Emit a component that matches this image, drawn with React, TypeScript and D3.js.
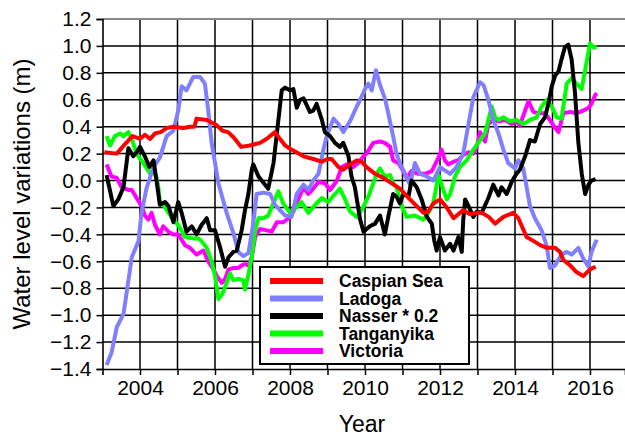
import React, { useEffect, useRef } from 'react';
import * as d3 from 'd3';

type Pt = [number, number];

const seriesNames = ['Caspian Sea', 'Ladoga', 'Nasser * 0.2', 'Tanganyika', 'Victoria'];
const seriesColors = ['#ff0000', '#8080ff', '#000000', '#00ff00', '#ff00ff'];

const caspian: Pt[] = [
  [2003.05, 0.21], [2003.38, 0.2], [2003.6, 0.27], [2003.8, 0.33], [2004.0, 0.31], [2004.13, 0.34],
  [2004.27, 0.31], [2004.4, 0.35], [2004.55, 0.36], [2004.71, 0.39], [2004.89, 0.4], [2005.15, 0.39],
  [2005.33, 0.4], [2005.45, 0.4], [2005.51, 0.46], [2005.78, 0.45], [2006.05, 0.41], [2006.2, 0.37],
  [2006.35, 0.36], [2006.5, 0.32], [2006.7, 0.25], [2006.93, 0.26], [2007.2, 0.28], [2007.38, 0.31],
  [2007.6, 0.36], [2007.73, 0.31], [2007.87, 0.26], [2008.04, 0.23], [2008.36, 0.18], [2008.62, 0.16],
  [2008.85, 0.14], [2009.0, 0.16], [2009.11, 0.16], [2009.29, 0.1], [2009.42, 0.08], [2009.6, 0.12],
  [2009.78, 0.15], [2009.91, 0.14], [2010.04, 0.1], [2010.27, 0.05], [2010.49, 0.02], [2010.71, -0.02],
  [2010.93, -0.06], [2011.2, -0.14], [2011.38, -0.19], [2011.56, -0.24], [2011.69, -0.23], [2011.82, -0.17],
  [2012.0, -0.14], [2012.18, -0.2], [2012.36, -0.28], [2012.62, -0.22], [2012.8, -0.25], [2012.98, -0.24],
  [2013.11, -0.24], [2013.3, -0.27], [2013.47, -0.32], [2013.69, -0.27], [2013.95, -0.24], [2014.09, -0.28],
  [2014.31, -0.42], [2014.5, -0.45], [2014.67, -0.48], [2014.85, -0.5], [2015.07, -0.5], [2015.2, -0.53],
  [2015.29, -0.59], [2015.47, -0.63], [2015.64, -0.68], [2015.82, -0.71], [2016.0, -0.66], [2016.15, -0.64],
];

const ladoga: Pt[] = [
  [2003.11, -1.37], [2003.24, -1.28], [2003.38, -1.09], [2003.56, -0.99], [2003.64, -0.84], [2003.78, -0.57],
  [2003.96, -0.45], [2004.04, -0.24], [2004.18, -0.05], [2004.36, 0.1], [2004.53, 0.17], [2004.71, 0.33],
  [2004.89, 0.37], [2005.02, 0.52], [2005.11, 0.7], [2005.24, 0.67], [2005.42, 0.77], [2005.6, 0.77],
  [2005.73, 0.72], [2005.82, 0.52], [2005.91, 0.28], [2006.05, 0.05], [2006.09, -0.02], [2006.31, -0.24],
  [2006.49, -0.39], [2006.62, -0.53], [2006.75, -0.56], [2006.89, -0.54], [2007.02, -0.32], [2007.11, -0.1],
  [2007.29, -0.09], [2007.47, -0.1], [2007.6, -0.18], [2007.87, -0.26], [2008.04, -0.27], [2008.18, -0.1],
  [2008.36, -0.03], [2008.49, -0.07], [2008.62, 0.0], [2008.76, 0.05], [2008.89, 0.23], [2008.98, 0.33],
  [2009.16, 0.46], [2009.29, 0.42], [2009.42, 0.36], [2009.6, 0.44], [2009.78, 0.55], [2009.87, 0.6],
  [2010.0, 0.68], [2010.09, 0.72], [2010.18, 0.67], [2010.29, 0.82], [2010.4, 0.71], [2010.53, 0.61],
  [2010.62, 0.5], [2010.75, 0.33], [2010.84, 0.2], [2010.93, 0.13], [2011.07, 0.05], [2011.2, -0.03],
  [2011.33, 0.13], [2011.47, 0.05], [2011.65, 0.03], [2011.82, 0.0], [2012.0, 0.1], [2012.27, 0.05],
  [2012.44, 0.1], [2012.62, 0.2], [2012.76, 0.42], [2012.89, 0.62], [2013.07, 0.73], [2013.16, 0.71],
  [2013.29, 0.6], [2013.42, 0.45], [2013.56, 0.35], [2013.69, 0.23], [2013.82, 0.13], [2014.0, 0.09],
  [2014.09, 0.15], [2014.22, 0.09], [2014.31, -0.05], [2014.4, -0.19], [2014.53, -0.28], [2014.71, -0.37],
  [2014.85, -0.49], [2014.93, -0.65], [2015.07, -0.63], [2015.24, -0.55], [2015.38, -0.53], [2015.51, -0.55],
  [2015.69, -0.5], [2015.82, -0.58], [2015.96, -0.64], [2016.04, -0.53], [2016.18, -0.44],
];

const nasser: Pt[] = [
  [2003.11, 0.04], [2003.18, -0.05], [2003.29, -0.19], [2003.42, -0.14], [2003.56, -0.05], [2003.69, 0.24],
  [2003.82, 0.18], [2003.91, 0.21], [2004.0, 0.25], [2004.13, 0.18], [2004.25, 0.1], [2004.36, 0.15],
  [2004.44, 0.0], [2004.53, -0.18], [2004.67, -0.16], [2004.76, -0.19], [2004.89, -0.31], [2005.02, -0.16],
  [2005.11, -0.24], [2005.24, -0.38], [2005.38, -0.34], [2005.51, -0.4], [2005.64, -0.33], [2005.78, -0.28],
  [2005.87, -0.37], [2006.0, -0.37], [2006.13, -0.49], [2006.27, -0.64], [2006.36, -0.57], [2006.49, -0.53],
  [2006.58, -0.52], [2006.71, -0.37], [2006.8, -0.22], [2006.89, -0.1], [2006.98, 0.08], [2007.02, 0.12],
  [2007.16, 0.03], [2007.33, -0.03], [2007.42, -0.06], [2007.56, 0.13], [2007.69, 0.45], [2007.78, 0.67],
  [2007.87, 0.69], [2008.0, 0.67], [2008.09, 0.68], [2008.18, 0.54], [2008.27, 0.6], [2008.36, 0.61],
  [2008.53, 0.51], [2008.62, 0.52], [2008.71, 0.57], [2008.85, 0.45], [2008.93, 0.36], [2009.07, 0.33],
  [2009.2, 0.28], [2009.33, 0.25], [2009.42, 0.28], [2009.56, 0.18], [2009.64, 0.03], [2009.73, -0.05],
  [2009.87, -0.29], [2009.96, -0.38], [2010.13, -0.34], [2010.27, -0.32], [2010.4, -0.26], [2010.53, -0.4],
  [2010.62, -0.27], [2010.75, -0.1], [2010.84, -0.12], [2010.93, -0.17], [2011.02, -0.1], [2011.16, -0.12],
  [2011.24, 0.0], [2011.38, -0.05], [2011.51, -0.14], [2011.65, -0.27], [2011.78, -0.32], [2011.85, -0.45],
  [2011.91, -0.52], [2012.0, -0.42], [2012.13, -0.52], [2012.27, -0.47], [2012.36, -0.52], [2012.49, -0.42],
  [2012.58, -0.53], [2012.62, -0.29], [2012.67, -0.14], [2012.76, -0.19], [2012.89, -0.27], [2012.98, -0.23],
  [2013.11, -0.24], [2013.29, -0.13], [2013.42, -0.03], [2013.56, -0.11], [2013.64, -0.05], [2013.78, -0.1],
  [2013.91, -0.01], [2014.04, 0.05], [2014.13, 0.08], [2014.27, 0.18], [2014.4, 0.3], [2014.53, 0.29],
  [2014.67, 0.42], [2014.8, 0.47], [2014.89, 0.57], [2014.98, 0.7], [2015.07, 0.78], [2015.16, 0.81],
  [2015.24, 0.9], [2015.33, 0.99], [2015.42, 1.01], [2015.51, 0.9], [2015.6, 0.65], [2015.69, 0.28],
  [2015.78, 0.05], [2015.87, -0.1], [2015.96, -0.03], [2016.04, 0.0], [2016.15, 0.01],
];

const tanganyika: Pt[] = [
  [2003.11, 0.33], [2003.2, 0.26], [2003.33, 0.33], [2003.47, 0.35], [2003.56, 0.33], [2003.69, 0.36],
  [2003.78, 0.31], [2003.91, 0.2], [2004.04, 0.15], [2004.18, 0.09], [2004.27, 0.05], [2004.36, 0.08],
  [2004.44, 0.02], [2004.49, -0.05], [2004.53, -0.17], [2004.62, -0.18], [2004.76, -0.24], [2004.89, -0.29],
  [2005.02, -0.33], [2005.2, -0.42], [2005.42, -0.43], [2005.56, -0.43], [2005.64, -0.45], [2005.78, -0.5],
  [2005.91, -0.6], [2006.0, -0.71], [2006.09, -0.88], [2006.18, -0.85], [2006.27, -0.79], [2006.4, -0.69],
  [2006.49, -0.74], [2006.62, -0.73], [2006.75, -0.74], [2006.8, -0.81], [2006.89, -0.7], [2006.98, -0.57],
  [2007.07, -0.37], [2007.16, -0.28], [2007.29, -0.28], [2007.42, -0.26], [2007.6, -0.14], [2007.69, -0.08],
  [2007.82, -0.17], [2008.0, -0.24], [2008.13, -0.21], [2008.31, -0.16], [2008.49, -0.24], [2008.67, -0.18],
  [2008.85, -0.13], [2009.02, -0.16], [2009.2, -0.1], [2009.33, -0.06], [2009.47, -0.14], [2009.6, -0.23],
  [2009.78, -0.27], [2009.91, -0.22], [2010.09, -0.12], [2010.22, -0.02], [2010.31, 0.05], [2010.4, 0.09],
  [2010.53, 0.03], [2010.67, 0.04], [2010.75, -0.02], [2010.84, -0.05], [2010.98, -0.19], [2011.11, -0.27],
  [2011.33, -0.26], [2011.56, -0.29], [2011.69, -0.24], [2011.82, -0.17], [2011.96, 0.04], [2012.09, -0.07],
  [2012.18, -0.14], [2012.27, -0.1], [2012.4, 0.03], [2012.53, 0.1], [2012.71, 0.15], [2012.89, 0.23],
  [2013.07, 0.3], [2013.2, 0.35], [2013.29, 0.45], [2013.38, 0.55], [2013.47, 0.47], [2013.56, 0.45],
  [2013.69, 0.47], [2013.87, 0.44], [2014.04, 0.45], [2014.22, 0.42], [2014.4, 0.45], [2014.58, 0.47],
  [2014.71, 0.55], [2014.85, 0.6], [2014.98, 0.55], [2015.11, 0.47], [2015.24, 0.46], [2015.38, 0.72],
  [2015.51, 0.76], [2015.64, 0.72], [2015.78, 0.68], [2015.87, 0.82], [2016.0, 1.02], [2016.09, 0.99],
  [2016.18, 0.99],
];

const victoria: Pt[] = [
  [2003.11, 0.12], [2003.24, 0.03], [2003.38, 0.02], [2003.51, -0.05], [2003.69, -0.07], [2003.78, -0.07],
  [2003.91, -0.13], [2004.04, -0.19], [2004.13, -0.26], [2004.22, -0.29], [2004.31, -0.24], [2004.4, -0.33],
  [2004.53, -0.4], [2004.62, -0.34], [2004.76, -0.38], [2004.89, -0.4], [2005.02, -0.4], [2005.2, -0.48],
  [2005.33, -0.5], [2005.51, -0.55], [2005.69, -0.52], [2005.82, -0.6], [2005.96, -0.66], [2006.05, -0.71],
  [2006.18, -0.76], [2006.27, -0.73], [2006.36, -0.66], [2006.49, -0.65], [2006.62, -0.65], [2006.71, -0.63],
  [2006.8, -0.62], [2006.89, -0.63], [2006.98, -0.57], [2007.07, -0.42], [2007.2, -0.36], [2007.38, -0.37],
  [2007.51, -0.38], [2007.65, -0.31], [2007.82, -0.31], [2007.96, -0.28], [2008.09, -0.23], [2008.22, -0.14],
  [2008.36, -0.05], [2008.49, -0.1], [2008.62, -0.06], [2008.76, -0.01], [2008.93, -0.02], [2009.07, -0.07],
  [2009.2, -0.02], [2009.25, 0.0], [2009.38, 0.1], [2009.51, 0.12], [2009.69, 0.1], [2009.82, 0.13],
  [2009.96, 0.18], [2010.04, 0.2], [2010.22, 0.28], [2010.4, 0.29], [2010.53, 0.28], [2010.67, 0.25],
  [2010.75, 0.15], [2010.89, 0.13], [2010.98, 0.09], [2011.11, 0.02], [2011.24, 0.07], [2011.42, 0.05],
  [2011.6, 0.05], [2011.78, 0.07], [2011.87, 0.12], [2011.96, 0.17], [2012.04, 0.23], [2012.13, 0.15],
  [2012.22, 0.12], [2012.36, 0.14], [2012.49, 0.15], [2012.62, 0.19], [2012.76, 0.21], [2012.89, 0.2],
  [2012.98, 0.25], [2013.07, 0.36], [2013.2, 0.29], [2013.29, 0.42], [2013.42, 0.45], [2013.56, 0.44],
  [2013.73, 0.45], [2013.91, 0.42], [2014.04, 0.44], [2014.13, 0.41], [2014.27, 0.52], [2014.36, 0.59],
  [2014.49, 0.51], [2014.62, 0.5], [2014.8, 0.5], [2014.93, 0.45], [2015.07, 0.39], [2015.16, 0.36],
  [2015.29, 0.5], [2015.47, 0.51], [2015.64, 0.5], [2015.82, 0.52], [2015.96, 0.54], [2016.04, 0.57],
  [2016.13, 0.63], [2016.18, 0.65],
];

const yTicks = [-1.4, -1.2, -1.0, -0.8, -0.6, -0.4, -0.2, 0.0, 0.2, 0.4, 0.6, 0.8, 1.0, 1.2];
const xTicks = [2004, 2005, 2006, 2007, 2008, 2009, 2010, 2011, 2012, 2013, 2014, 2015, 2016];
const xLabels = [2004, 2006, 2008, 2010, 2012, 2014, 2016];

const W = 625;
const H = 437;

const App = () => {
  const ref = useRef<SVGSVGElement>(null);

  useEffect(() => {
    const svg = d3.select(ref.current);
    svg.selectAll('*').remove();

    const left = 102.5, top = 19, bottom = 369, right = W;
    const x = d3.scaleLinear().domain([2003, 2003 + (right - left) / 37.5]).range([left, right]);
    const y = d3.scaleLinear().domain([-1.4, 1.2]).range([bottom, top]);
    const font = 'Liberation Sans, Arial, Helvetica, sans-serif';

    svg.append('defs').append('clipPath').attr('id', 'plot')
      .append('rect').attr('x', left).attr('y', top).attr('width', right - left).attr('height', bottom - top);

    // grid
    const grid = svg.append('g');
    grid.selectAll('.vg').data(xTicks).enter().append('line')
      .attr('x1', d => x(d)).attr('x2', d => x(d)).attr('y1', top).attr('y2', bottom)
      .attr('stroke', '#000').attr('stroke-width', 1.5);
    grid.selectAll('.hg').data(yTicks.filter(d => d > -1.3 && d < 1.1)).enter().append('line')
      .attr('x1', left).attr('x2', right).attr('y1', d => y(d)).attr('y2', d => y(d))
      .attr('stroke', '#000').attr('stroke-width', 1.5);
    grid.append('line').attr('x1', left).attr('x2', right).attr('y1', top).attr('y2', top)
      .attr('stroke', '#888').attr('stroke-width', 2);

    // axes
    const yAxis = svg.append('g').attr('transform', `translate(${left},0)`)
      .call(d3.axisLeft(y).tickValues(yTicks).tickFormat(d3.format('.1f')).tickSize(6).tickPadding(5));
    const xAxis = svg.append('g').attr('transform', `translate(0,${bottom})`)
      .call(d3.axisBottom(x).tickValues(xTicks)
        .tickFormat(d => (xLabels.includes(d as number) ? String(d) : '')).tickSize(6).tickPadding(5));
    [yAxis, xAxis].forEach(a => {
      a.selectAll('path').attr('stroke', '#000').attr('stroke-width', 1.6);
      a.selectAll('line').attr('stroke', '#000').attr('stroke-width', 1.5);
      a.selectAll('text').attr('font-family', font).attr('font-size', 21).attr('fill', '#000');
    });

    // series
    const series = [victoria, tanganyika, ladoga, nasser, caspian];
    const colors = [seriesColors[4], seriesColors[3], seriesColors[1], seriesColors[2], seriesColors[0]];
    const line = d3.line<Pt>().x(d => x(d[0])).y(d => y(d[1]));
    svg.append('g').attr('clip-path', 'url(#plot)')
      .selectAll('path').data(series).enter().append('path')
      .attr('d', d => line(d))
      .attr('fill', 'none')
      .attr('stroke', (_, i) => colors[i])
      .attr('stroke-width', 4)
      .attr('stroke-linejoin', 'round');

    // legend
    const lg = svg.append('g').attr('transform', 'translate(260,267)');
    lg.append('rect').attr('width', 209).attr('height', 97)
      .attr('fill', '#fff').attr('stroke', '#000').attr('stroke-width', 2);
    seriesNames.forEach((name, i) => {
      const ly = 14 + i * 17.5;
      lg.append('line').attr('x1', 10).attr('x2', 63).attr('y1', ly).attr('y2', ly)
        .attr('stroke', seriesColors[i]).attr('stroke-width', 6);
      lg.append('text').attr('x', 79).attr('y', ly + 6).text(name)
        .attr('font-family', font).attr('font-weight', 'bold').attr('font-size', 17.5).attr('fill', '#000');
    });

    // titles
    svg.append('text').attr('x', 362).attr('y', 432).attr('text-anchor', 'middle')
      .attr('font-family', font).attr('font-size', 23).text('Year');
    svg.append('text').attr('transform', `translate(30,${(top + bottom) / 2}) rotate(-90)`)
      .attr('text-anchor', 'middle').attr('font-family', font).attr('font-size', 24)
      .text('Water level variations (m)');
  }, []);

  return (
    <svg ref={ref} width={W} height={H}
      style={{ position: 'absolute', left: 0, top: 0, background: '#fff' }} />
  );
};

export default App;
